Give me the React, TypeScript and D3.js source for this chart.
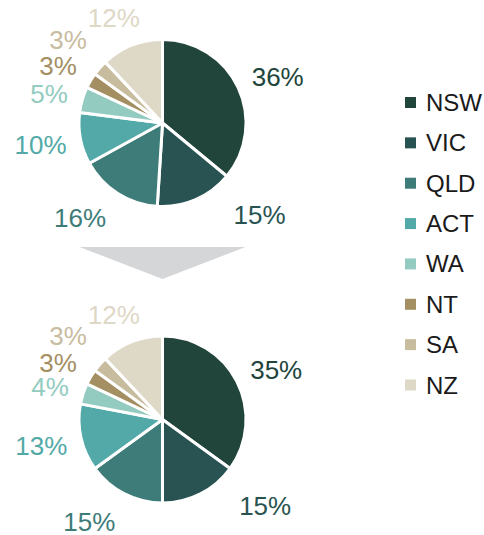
import React from "react";
import * as d3 from "d3";

const categories = ["NSW", "VIC", "QLD", "ACT", "WA", "NT", "SA", "NZ"];
const beforeValues = [36, 15, 16, 10, 5, 3, 3, 12];
const afterValues = [35, 15, 15, 13, 4, 3, 3, 12];
const colors = ["#21443b", "#285352", "#3e7c79", "#52a9a8", "#93cbc0", "#a48f63", "#c8bc9f", "#ded8c6"];

// label layout: angular nudge (deg) and radius per category
const labelNudge = [3.5, -23, 8.5, 0.4, -2, -2, 0, -3.3];
const labelRadius = [124, 134, 126, 124, 117, 119, 126, 115.5];

const W = 484;
const H = 535;
const CX = 162.5;
const R = 83.5;
const pieCenters = [123, 419.5];
const FONT = "'Liberation Sans', Arial, Helvetica, sans-serif";

function Pie({ values, cy }: { values: number[]; cy: number }) {
  const pie = d3.pie<number>().sort(null).value((d) => d);
  const arcs = pie(values);
  const arc = d3.arc<d3.PieArcDatum<number>>().innerRadius(0).outerRadius(R);
  return (
    <g>
      <g transform={`translate(${CX},${cy})`}>
        {arcs.map((a, i) => (
          <path key={i} d={arc(a) || ""} fill={colors[i]} stroke="#ffffff" strokeWidth={3} strokeLinejoin="round" />
        ))}
      </g>
      {arcs.map((a, i) => {
        const ang = (a.startAngle + a.endAngle) / 2 + (labelNudge[i] * Math.PI) / 180;
        const r = labelRadius[i];
        const x = CX + r * Math.sin(ang);
        const y = cy - r * Math.cos(ang);
        return (
          <text
            key={"l" + i}
            x={x}
            y={y}
            textAnchor="middle"
            dominantBaseline="central"
            fontFamily={FONT}
            fontSize={26}
            fill={colors[i]}
          >
            {values[i]}%
          </text>
        );
      })}
    </g>
  );
}

export default function App() {
  const legendY = d3.scalePoint<string>().domain(categories).range([102.5, 385]);
  const arrowTop = 247;
  const arrowApex = 279;
  const arrowHalf = 83;
  return (
    <svg width={W} height={H} style={{ position: "absolute", left: 0, top: 0, background: "#fff" }}>
      <Pie values={beforeValues} cy={pieCenters[0]} />
      <polygon
        points={`${CX - arrowHalf},${arrowTop} ${CX + arrowHalf},${arrowTop} ${CX},${arrowApex}`}
        fill="#d5d6d8"
      />
      <Pie values={afterValues} cy={pieCenters[1]} />
      <g>
        {categories.map((c, i) => {
          const y = legendY(c) as number;
          return (
            <g key={c}>
              <rect x={405} y={y - 5.5} width={11} height={11} fill={colors[i]} />
              <text x={426} y={y} dominantBaseline="central" fontFamily={FONT} fontSize={24} fill="#1a1a1a">
                {c}
              </text>
            </g>
          );
        })}
      </g>
    </svg>
  );
}
